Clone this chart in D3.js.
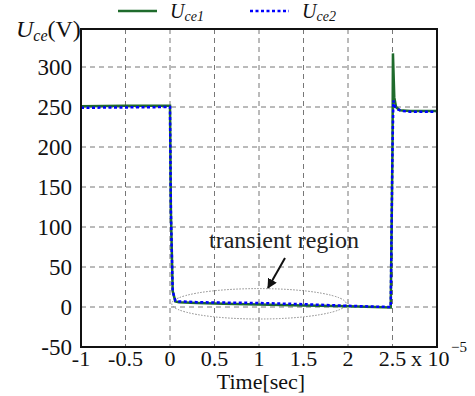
<!DOCTYPE html>
<html>
<head>
<meta charset="utf-8">
<script src="https://cdn.jsdelivr.net/npm/d3@7"></script>
<style>
  body { margin: 0; background: #fff; }
  text { font-family: "Liberation Serif", "Times New Roman", serif; }
</style>
</head>
<body>
<script>
// data (time in units of 1e-5 s, voltage in V)
const time1 = [-1, -0.5, 0, 0.01, 0.03, 0.06, 0.1, 0.3, 0.6, 1.0, 1.5, 2.0, 2.3, 2.48, 2.5, 2.505, 2.52, 2.54, 2.58, 2.7, 3.0];
const uce1 = [251, 251.5, 251.5, 120, 20, 7, 6, 5, 4, 3, 2, 1, 0, -0.5, 200, 317, 262, 250, 246, 245, 245];
const time2 = [-1, -0.5, 0, 0.01, 0.03, 0.06, 0.1, 0.3, 0.6, 1.0, 1.5, 2.0, 2.3, 2.48, 2.5, 2.51, 2.53, 2.56, 2.62, 2.7, 3.0];
const uce2 = [249, 249.5, 250, 120, 20, 8, 7, 6, 5.5, 5, 3.5, 1.5, 0.5, 0, 200, 258, 250, 247, 245, 244, 244];

const xTicks = [-1, -0.5, 0, 0.5, 1, 1.5, 2, 2.5];
const xTickLabels = ["-1", "-0.5", "0", "0.5", "1", "1.5", "2", "2.5"];
const yTicks = [-50, 0, 50, 100, 150, 200, 250, 300];

const W = 475, H = 396;
const m = { left: 81, right: 437, top: 29, bottom: 347 };
const fs = 22;

const svg = d3.select("body").append("svg").attr("width", W).attr("height", H);

const x = d3.scaleLinear().domain([-1, 3]).range([m.left, m.right]);
const y = d3.scaleLinear().domain([-50, 347.5]).range([m.bottom, m.top]);

// grid
const grid = svg.append("g").attr("stroke", "#777").attr("stroke-width", 1).attr("stroke-dasharray", "5,4");
grid.selectAll(".gx").data(xTicks.slice(1)).join("line")
  .attr("x1", d => x(d)).attr("x2", d => x(d)).attr("y1", m.top).attr("y2", m.bottom);
grid.selectAll(".gy").data(yTicks.slice(1)).join("line")
  .attr("x1", m.left).attr("x2", m.right).attr("y1", d => y(d)).attr("y2", d => y(d));

// ellipse marking the transient region
svg.append("ellipse")
  .attr("cx", x(1.0)).attr("cy", y(4))
  .attr("rx", x(0.98) - x(0)).attr("ry", y(0) - y(19))
  .attr("fill", "none").attr("stroke", "#888").attr("stroke-width", 1).attr("stroke-dasharray", "1.5,1.5");

// lines
const line = d3.line().x(d => x(d[0])).y(d => y(d[1]));
svg.append("path").datum(d3.zip(time1, uce1)).attr("d", line)
  .attr("fill", "none").attr("stroke", "#1f6b2c").attr("stroke-width", 2.5);
svg.append("path").datum(d3.zip(time2, uce2)).attr("d", line)
  .attr("fill", "none").attr("stroke", "#0000ff").attr("stroke-width", 2.5).attr("stroke-dasharray", "3,2.5");

// frame
svg.append("rect").attr("x", m.left).attr("y", m.top)
  .attr("width", m.right - m.left).attr("height", m.bottom - m.top)
  .attr("fill", "none").attr("stroke", "#111").attr("stroke-width", 2);

// tick labels
svg.selectAll(".yl").data(yTicks).join("text")
  .attr("x", 72).attr("y", d => y(d) + 8)
  .attr("text-anchor", "end").attr("font-size", 23).attr("fill", "#111")
  .text(d => d);
svg.selectAll(".xl").data(xTicks).join("text")
  .attr("x", d => x(d)).attr("y", 366)
  .attr("text-anchor", "middle").attr("font-size", fs).attr("fill", "#111")
  .text((d, i) => xTickLabels[i]);
svg.append("text").attr("x", 411).attr("y", 366).attr("font-size", fs).attr("fill", "#111").text("x 10");
svg.append("text").attr("x", 451).attr("y", 352).attr("font-size", 15).attr("fill", "#111").text("\u22125");

// axis titles
svg.append("text").attr("x", 261).attr("y", 389).attr("text-anchor", "middle")
  .attr("font-size", fs).attr("fill", "#111").text("Time[sec]");
const yl = svg.append("text").attr("x", 16).attr("y", 37).attr("font-size", 24).attr("fill", "#111");
yl.append("tspan").attr("font-style", "italic").text("U");
yl.append("tspan").attr("font-style", "italic").attr("font-size", 16).attr("dy", 4).text("ce");
yl.append("tspan").attr("dy", -4).text("(V)");

// annotation
svg.append("text").attr("x", 284).attr("y", 248).attr("text-anchor", "middle")
  .attr("font-size", 24).attr("fill", "#222").text("transient region");
svg.append("defs").append("marker").attr("id", "ah")
  .attr("viewBox", "0 0 10 10").attr("refX", 9).attr("refY", 5)
  .attr("markerWidth", 5).attr("markerHeight", 5).attr("orient", "auto")
  .append("path").attr("d", "M0,0L10,5L0,10z").attr("fill", "#111");
svg.append("line").attr("x1", 285).attr("y1", 258).attr("x2", 268).attr("y2", 288)
  .attr("stroke", "#111").attr("stroke-width", 2).attr("marker-end", "url(#ah)");

// legend
const legend = [
  { name: "1", color: "#1f6b2c", dash: null, x0: 118 },
  { name: "2", color: "#0000ff", dash: "3,2.5", x0: 250 }
];
legend.forEach(l => {
  svg.append("line").attr("x1", l.x0).attr("x2", l.x0 + 39).attr("y1", 11).attr("y2", 11)
    .attr("stroke", l.color).attr("stroke-width", 2.5).attr("stroke-dasharray", l.dash);
  const t = svg.append("text").attr("x", l.x0 + 52).attr("y", 18).attr("font-size", 20).attr("fill", "#111");
  t.append("tspan").attr("font-style", "italic").text("U");
  t.append("tspan").attr("font-style", "italic").attr("font-size", 14).attr("dy", 3).text("ce" + l.name);
});
</script>
</body>
</html>
